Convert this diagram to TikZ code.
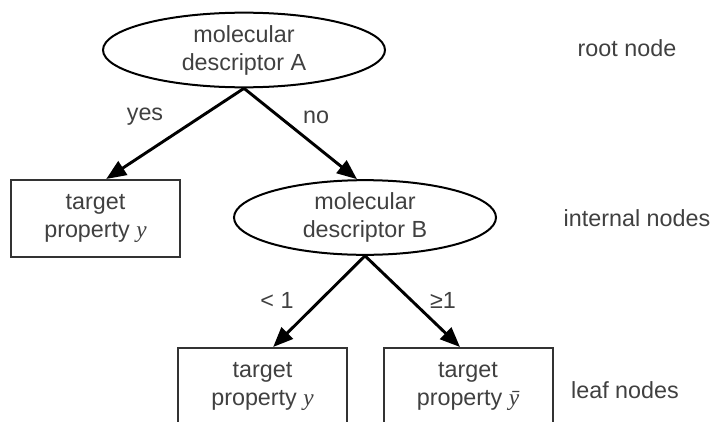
\documentclass[tikz,border=0pt]{standalone}
\usepackage{fontspec}
\setmainfont{Liberation Sans}
\newfontfamily\serifit{Liberation Serif}[ItalicFont={Liberation Serif Italic}]
\usetikzlibrary{shapes.geometric,arrows.meta}
\begin{document}
\begin{tikzpicture}[x=0.75pt,y=-0.75pt,
  every node/.style={font=\fontsize{17.5pt}{21pt}\selectfont, text=black!75},
  decision/.style={ellipse, draw=black, line width=1.5pt, inner sep=0pt, minimum height=56pt, align=center},
  leafbox/.style={rectangle, draw=black!80, line width=1.5pt, minimum width=126.75pt, minimum height=57.75pt, align=center},
  branch/.style={line width=2.2pt, -{Triangle[length=15pt,width=12pt]}},
  lbl/.style={inner sep=0pt}]
\useasboundingbox (0,0) rectangle (713,421);
\clip (0,0) rectangle (713,421);
\fill[white] (0,0) rectangle (713,421);
\node[decision, minimum width=211.5pt] (A) at (244,50) {molecular\\descriptor A};
\node[leafbox] (L1) at (95.5,218.5) {target\\property {\serifit\itshape y}};
\node[decision, minimum width=196.5pt] (B) at (365,217.5) {molecular\\descriptor B};
\node[leafbox] (L2) at (262.5,386.5) {target\\property {\serifit\itshape y}};
\node[leafbox] (L3) at (468,386.5) {target\\property {\serifit\itshape ȳ}};
\draw[branch] (A.south) -- ([xshift=8pt]L1.north);
\draw[branch] (A.south) -- ([xshift=-6pt]B.north);
\draw[branch] (B.south) -- ([xshift=8pt]L2.north);
\draw[branch] (B.south) -- ([xshift=-6pt]L3.north);
\node[lbl] (yes) at (145,117) {yes};
\node[lbl] (no) at (316,117) {no};
\node[lbl] (lt) at (277,300) {< 1};
\node[lbl] (ge) at (443,300) {≥1};
\node[lbl] (root) at (627,48) {root node};
\node[lbl] (internal) at (637,218) {internal nodes};
\node[lbl] (leaf) at (625,390) {leaf nodes};
\end{tikzpicture}
\end{document}
